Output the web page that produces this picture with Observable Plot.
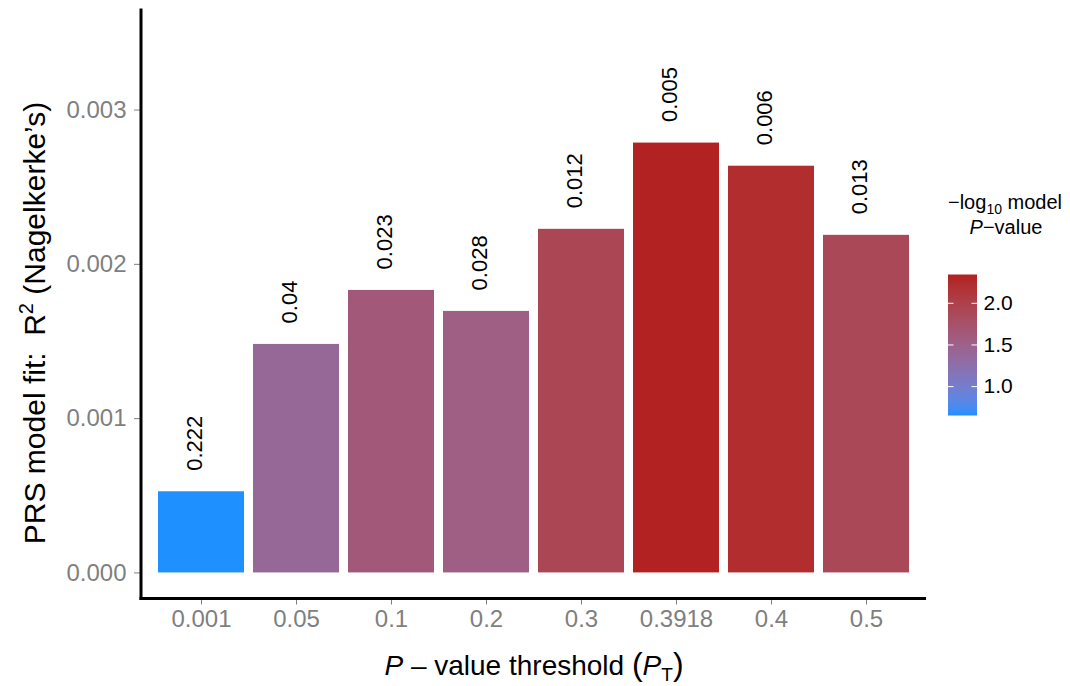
<!DOCTYPE html>
<html>
<head>
<meta charset="utf-8">
<script src="https://cdn.jsdelivr.net/npm/d3@7"></script>
<script src="https://cdn.jsdelivr.net/npm/@observablehq/plot@0.6"></script>
<style>
  html, body { margin: 0; padding: 0; background: #ffffff; }
  #wrap { position: relative; width: 1070px; height: 686px; overflow: hidden; font-family: "Liberation Sans", Arial, Helvetica, sans-serif; }
  #legend { position: absolute; left: 948px; top: 275px; }
</style>
</head>
<body>
<div id="wrap"><div id="main"></div><div id="legend"></div></div>
<script>
// ---- data ----
const thresholds = ["0.001", "0.05", "0.1", "0.2", "0.3", "0.3918", "0.4", "0.5"];
const r2Values   = [0.000526, 0.001481, 0.001831, 0.001695, 0.002227, 0.002786, 0.002636, 0.002188];
const pValues    = [0.222, 0.0402, 0.0232, 0.0278, 0.0121, 0.00464, 0.0058, 0.0126];
const pLabels    = ["0.222", "0.04", "0.023", "0.028", "0.012", "0.005", "0.006", "0.013"];
const yTicks     = [0, 0.001, 0.002, 0.003];
const legendTicks = [1.0, 1.5, 2.0];

const FONT = '"Liberation Sans", Arial, Helvetica, sans-serif';

const data = thresholds.map((t, i) => ({
  threshold: t,
  r2: r2Values[i],
  logp: -Math.log10(pValues[i]),
  label: pLabels[i]
}));
const logDomain = d3.extent(data, d => d.logp);
const colorScale = { type: "linear", domain: logDomain, range: ["dodgerblue", "firebrick"], interpolate: "lab" };

const W = 1070, H = 686;
const mL = 141, mR = 145, mT = 8.5, mB = 87.5;
const yDomain = [-0.000169, 0.003655];

const axisLines = (index, scales, values, dims) => {
  const g = d3.create("svg:g");
  const L = dims.marginLeft, R = dims.width - dims.marginRight;
  const T = dims.marginTop, B = dims.height - dims.marginBottom;
  g.append("line").attr("x1", L).attr("x2", L).attr("y1", T).attr("y2", B + 1.5)
    .attr("stroke", "black").attr("stroke-width", 3);
  g.append("line").attr("x1", L - 1.5).attr("x2", R + 1).attr("y1", B).attr("y2", B)
    .attr("stroke", "black").attr("stroke-width", 3);
  return g.node();
};

const chart = Plot.plot({
  width: W, height: H,
  marginLeft: mL, marginRight: mR, marginTop: mT, marginBottom: mB,
  style: { fontFamily: FONT, background: "white", overflow: "visible" },
  x: { domain: thresholds, paddingInner: 0.1, paddingOuter: 0.15, label: null },
  y: { domain: yDomain, label: null },
  color: colorScale,
  marks: [
    Plot.barY(data, { x: "threshold", y1: 0, y2: "r2", fill: "logp" }),
    Plot.text(data, {
      x: "threshold", y: "r2", text: "label", rotate: -90,
      textAnchor: "start", lineAnchor: "middle", dy: -21, dx: -7,
      fontSize: 22, fill: "black"
    }),
    Plot.axisY(yTicks, {
      tickFormat: d3.format(".3f"), tickSize: 7, tickPadding: 8,
      fontSize: 24, color: "#7f7f7f", label: null
    }),
    Plot.axisX({ tickSize: 6, tickPadding: 5, fontSize: 24, color: "#7f7f7f", label: null }),
    axisLines
  ]
});
document.getElementById("main").appendChild(chart);

// axis titles (with super/subscripts)
const svg = d3.select(chart);
const yTitle = svg.append("text")
  .attr("transform", "translate(45,323) rotate(-90)")
  .attr("text-anchor", "middle")
  .attr("font-family", FONT).attr("font-size", 30).attr("fill", "black");
yTitle.append("tspan").text("PRS model fit:  R");
yTitle.append("tspan").attr("font-size", 20).attr("dy", -12).text("2");
yTitle.append("tspan").attr("dy", 12).text(" (Nagelkerke\u2019s)");

const xTitle = svg.append("text")
  .attr("x", 534).attr("y", 675)
  .attr("text-anchor", "middle")
  .attr("font-family", FONT).attr("font-size", 28).attr("fill", "black");
xTitle.append("tspan").attr("font-style", "italic").text("P");
xTitle.append("tspan").text(" \u2013 value threshold ");
xTitle.append("tspan").attr("font-size", 32).text("(");
xTitle.append("tspan").attr("font-style", "italic").text("P");
xTitle.append("tspan").attr("font-size", 19).attr("dy", 6).text("T");
xTitle.append("tspan").attr("font-size", 32).attr("dy", -6).text(")");

// legend title
const lt1 = svg.append("text").attr("x", 1005).attr("y", 209).attr("text-anchor", "middle")
  .attr("font-family", FONT).attr("font-size", 20).attr("fill", "black");
lt1.append("tspan").text("\u2212log");
lt1.append("tspan").attr("font-size", 14).attr("dy", 5).text("10");
lt1.append("tspan").attr("dy", -5).text(" model");
const lt2 = svg.append("text").attr("x", 1006).attr("y", 234).attr("text-anchor", "middle")
  .attr("font-family", FONT).attr("font-size", 20).attr("fill", "black");
lt2.append("tspan").attr("font-style", "italic").text("P");
lt2.append("tspan").text("\u2212value");

// colour bar legend drawn with Plot using the same colour scale
const nSteps = 140;
const steps = d3.range(nSteps).map(i => {
  const a = logDomain[0] + (logDomain[1] - logDomain[0]) * i / nSteps;
  const b = logDomain[0] + (logDomain[1] - logDomain[0]) * (i + 1) / nSteps;
  return { a, b, mid: (a + b) / 2 };
});
const legend = Plot.plot({
  width: 122, height: 140,
  marginLeft: 0, marginRight: 93, marginTop: 0, marginBottom: 0,
  style: { fontFamily: FONT, background: "transparent", overflow: "visible" },
  x: { domain: [0, 29], axis: null },
  y: { domain: logDomain, axis: null },
  color: colorScale,
  marks: [
    Plot.rect(steps, { x1: 0, x2: 29, y1: "a", y2: "b", fill: "mid", inset: 0, insetTop: -0.5, insetBottom: -0.5 }),
    Plot.ruleY(legendTicks, { x1: 0, x2: 5.5, stroke: "white", strokeWidth: 1 }),
    Plot.ruleY(legendTicks, { x1: 23.5, x2: 29, stroke: "white", strokeWidth: 1 }),
    Plot.text(legendTicks, { x: 29, y: d => d, text: d => d.toFixed(1), textAnchor: "start", dx: 6, fontSize: 21, fill: "black" })
  ]
});
document.getElementById("legend").appendChild(legend);
</script>
</body>
</html>
